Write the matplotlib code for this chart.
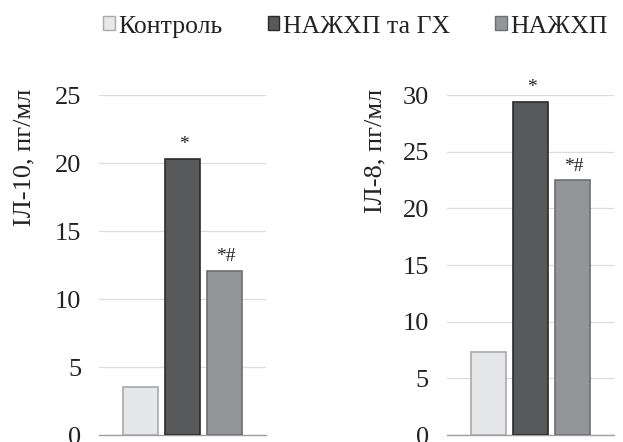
import numpy as np
import matplotlib.pyplot as plt
from matplotlib.patches import Patch

plt.rcParams['font.family'] = ['Liberation Serif', 'DejaVu Serif']

groups = ['Контроль', 'НАЖХП та ГХ', 'НАЖХП']
il10 = [3.55, 20.3, 12.1]
il8 = [7.35, 29.4, 22.5]
marks = ['', '*', '*#']

fills = ['#e6e7e8', '#58595b', '#939598']
edges = ['#a7a9ac', '#2b2b2b', '#6d6e71']

fig = plt.figure(figsize=(6.23, 4.42), dpi=100)
ax1 = fig.add_axes([0.159, 0.0158, 0.268, 0.769])
ax2 = fig.add_axes([0.7175, 0.0158, 0.268, 0.769])

x = np.arange(3)
panels = [(ax1, il10, 25), (ax2, il8, 30)]
for ax, vals, ymax in panels:
    ax.bar(x, vals, width=0.84, color=fills, edgecolor=edges, linewidth=1.2, zorder=3)
    ax.set_xlim(-0.99, 2.99)
    ax.set_ylim(0, ymax)
    ax.set_yticks(np.arange(0, ymax + 1, 5))
    ax.set_xticks([])
    ax.grid(axis='y', color='#dcdcdc', linewidth=0.9, zorder=0)
    for s in ['top', 'right', 'left']:
        ax.spines[s].set_visible(False)
    ax.spines['bottom'].set_color('#a0a0a0')
    ax.spines['bottom'].set_linewidth(1.0)
    ax.tick_params(axis='y', length=0, labelsize=19, pad=13, colors='#222222')
    for xi, v, m in zip(x, vals, marks):
        if m:
            ax.annotate(m, xy=(xi, v), xytext=(1, 4), textcoords='offset points',
                        ha='center', va='bottom', fontsize=14, color='#222222',
                        annotation_clip=False)

fig.text(0.04, 0.80, 'ІЛ-10, пг/мл', rotation=90, ha='center', va='top',
         fontsize=19, color='#222222')
fig.text(0.602, 0.80, 'ІЛ-8, пг/мл', rotation=90, ha='center', va='top',
         fontsize=19, color='#222222')

handles = [Patch(facecolor=f, edgecolor=e, label=g) for f, e, g in zip(fills, edges, groups)]
fig.legend(handles=handles, loc='center', bbox_to_anchor=(0.571, 0.94), ncol=3,
           frameon=False, fontsize=18.5, handlelength=0.45, handleheight=0.45,
           handletextpad=0.15, columnspacing=1.75, labelcolor='#222222',
           borderpad=0, borderaxespad=0)

fig.savefig('out.png', dpi=100)
